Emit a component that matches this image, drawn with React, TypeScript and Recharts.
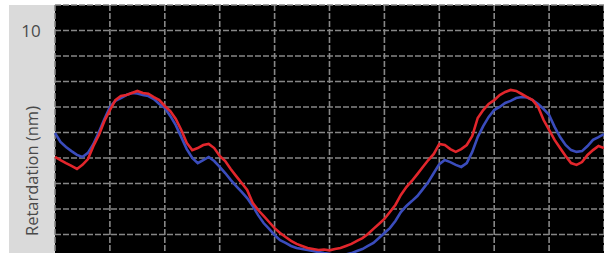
import React from 'react';
import { LineChart, Line, XAxis, YAxis, CartesianGrid } from 'recharts';

// position along scan (grid units), sampled every 0.1
const positions: number[] = Array.from({ length: 101 }, (_, i) => Math.round(i) / 10);

const redSeries: number[] = [
  5.04, 4.92, 4.80, 4.69, 4.57, 4.73, 4.96, 5.47, 5.90, 6.45,
  6.88, 7.27, 7.43, 7.47, 7.55, 7.63, 7.55, 7.52, 7.39, 7.27,
  7.04, 6.84, 6.53, 6.10, 5.59, 5.31, 5.39, 5.51, 5.55, 5.39,
  5.08, 4.88, 4.57, 4.29, 4.02, 3.75, 3.24, 2.96, 2.73, 2.49,
  2.25, 2.06, 1.90, 1.75, 1.63, 1.55, 1.47, 1.43, 1.39, 1.41,
  1.38, 1.43, 1.47, 1.55, 1.63, 1.75, 1.86, 2.02, 2.22, 2.41,
  2.61, 2.88, 3.16, 3.55, 3.86, 4.10, 4.37, 4.65, 4.92, 5.16,
  5.55, 5.51, 5.35, 5.24, 5.35, 5.51, 5.86, 6.57, 6.88, 7.12,
  7.27, 7.47, 7.59, 7.67, 7.63, 7.51, 7.39, 7.27, 7.00, 6.49,
  6.10, 5.71, 5.39, 5.08, 4.80, 4.73, 4.84, 5.12, 5.31, 5.47,
  5.39,
];

const blueSeries: number[] = [
  5.98, 5.63, 5.43, 5.27, 5.12, 5.04, 5.20, 5.55, 6.02, 6.53,
  7.00, 7.24, 7.35, 7.47, 7.55, 7.53, 7.47, 7.43, 7.31, 7.12,
  6.96, 6.65, 6.29, 5.82, 5.35, 5.00, 4.80, 4.92, 5.04, 4.88,
  4.65, 4.41, 4.14, 3.90, 3.67, 3.43, 3.12, 2.76, 2.45, 2.22,
  1.98, 1.78, 1.67, 1.55, 1.47, 1.43, 1.39, 1.35, 1.31, 1.27,
  1.24, 1.20, 1.20, 1.22, 1.27, 1.35, 1.43, 1.55, 1.67, 1.86,
  2.06, 2.25, 2.53, 2.88, 3.12, 3.31, 3.51, 3.78, 4.06, 4.41,
  4.76, 4.92, 4.84, 4.73, 4.65, 4.80, 5.24, 5.82, 6.25, 6.61,
  6.88, 7.00, 7.16, 7.24, 7.35, 7.39, 7.37, 7.27, 7.12, 6.92,
  6.69, 6.22, 5.82, 5.51, 5.31, 5.24, 5.27, 5.47, 5.71, 5.82,
  5.94,
];

const xTicks: number[] = [0, 1, 2, 3, 4, 5, 6, 7, 8, 9, 10];
const yTicks: number[] = [1, 2, 3, 4, 5, 6, 7, 8, 9, 10, 11];
const yLabelTicks: number[] = [10];
const yAxisTitle = 'Retardation (nm)';

const data = positions.map((x, i) => ({ x, red: redSeries[i], blue: blueSeries[i] }));

const TEXT_COLOR = '#4a4a4a';
const FONT = '"Open Sans", "Noto Sans", sans-serif';

const YTick = (props: any) => {
  const { y, payload } = props;
  if (!yLabelTicks.includes(payload.value)) return null;
  return (
    <text x={31} y={y} dy={6} textAnchor="middle" fill={TEXT_COLOR} fontSize={17} fontFamily={FONT}>
      {payload.value}
    </text>
  );
};

const YTitle = () => (
  <text
    transform="translate(38,171) rotate(-90)"
    textAnchor="middle"
    fill={TEXT_COLOR}
    fontSize={16.5}
    fontFamily={FONT}
  >
    {yAxisTitle}
  </text>
);

export default function App() {
  return (
    <div
      style={{
        position: 'absolute',
        left: 0,
        top: 0,
        width: 604,
        height: 253,
        overflow: 'hidden',
        background: '#ffffff',
      }}
    >
      <div
        style={{
          position: 'absolute',
          left: 9,
          top: 5,
          width: 46,
          height: 260,
          background: '#dadada',
        }}
      />
      <div style={{ position: 'absolute', left: 0, top: 0 }}>
        <LineChart
          width={604}
          height={262}
          data={data}
          margin={{ top: 5, right: 0, bottom: 2, left: 9 }}
        >
          <CartesianGrid
            fill="#000000"
            fillOpacity={1}
            stroke="#878787"
            strokeWidth={1.6}
            strokeDasharray="6 2"
          />
          <XAxis
            dataKey="x"
            type="number"
            domain={[0, 10]}
            ticks={xTicks}
            hide
          />
          <YAxis
            type="number"
            domain={[1, 11]}
            ticks={yTicks}
            width={46}
            axisLine={false}
            tickLine={false}
            tick={<YTick />}
            interval={0}
            label={{ content: <YTitle /> }}
          />
          <Line
            type="linear"
            dataKey="blue"
            stroke="#3a4cbc"
            strokeWidth={2.6}
            dot={false}
            isAnimationActive={false}
          />
          <Line
            type="linear"
            dataKey="red"
            stroke="#e2262c"
            strokeWidth={2.6}
            dot={false}
            isAnimationActive={false}
          />
        </LineChart>
      </div>
    </div>
  );
}
